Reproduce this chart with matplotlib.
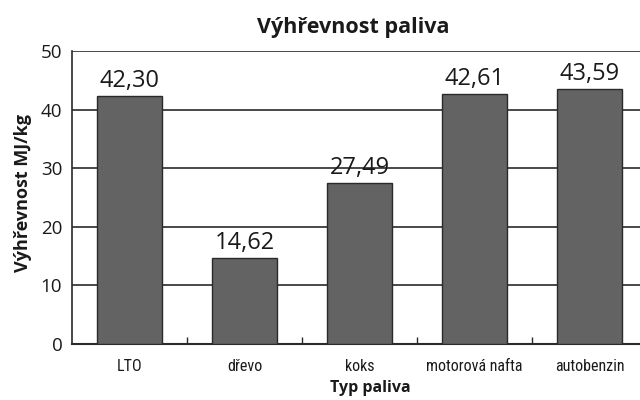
import matplotlib
matplotlib.use("Agg")
import matplotlib.pyplot as plt
from matplotlib.ticker import FixedLocator
from matplotlib import font_manager

categories = ["LTO", "dřevo", "koks", "motorová nafta", "autobenzin"]
values = [42.30, 14.62, 27.49, 42.61, 43.59]
yticks = [0, 10, 20, 30, 40, 50]

plt.rcParams['font.family'] = ['Open Sans', 'DejaVu Sans']

# pick a narrow font for category labels if one is installed
narrow = None
for f in font_manager.fontManager.ttflist:
    if f.name in ("Liberation Sans Narrow", "DejaVu Sans Condensed", "Roboto Condensed", "Open Sans Condensed"):
        narrow = f.name
        break
if narrow is None:
    for f in font_manager.fontManager.ttflist:
        if ("Condensed" in f.fname or "Narrow" in f.fname) and "Sans" in f.fname and "Mono" not in f.fname:
            narrow = f.fname
            break

fig = plt.figure(figsize=(6.4, 4.0), dpi=100)
ax = fig.add_axes([72/640, 56/400, 575/640, 293/400])

x = list(range(len(categories)))
ax.bar(x, values, width=0.565, color="#636363", edgecolor="#2a2a2a", linewidth=1.0, zorder=3)
for xi, v in zip(x, values):
    ax.annotate(f"{v:.2f}".replace(".", ","), (xi, v), xytext=(0, 6.5), textcoords="offset points",
                ha="center", va="baseline", fontsize=17, color="#1a1a1a")

ax.set_xlim(-0.5, 4.5)
ax.set_ylim(0, 50)
ax.set_yticks(yticks)
ax.set_yticklabels([str(t) for t in yticks], fontsize=13.5, color="#1a1a1a")
ax.yaxis.grid(True, color="#2a2a2a", linewidth=1.2, zorder=0)
ax.tick_params(axis='y', length=0, pad=7)
ax.set_xticks(x)
if narrow is not None and narrow.endswith(('.ttf', '.otf', '.TTF', '.OTF')):
    fp = font_manager.FontProperties(fname=narrow, size=11.5)
    ax.set_xticklabels(categories, fontproperties=fp, color="#1a1a1a")
elif narrow is not None:
    ax.set_xticklabels(categories, fontsize=11.5, family=[narrow, 'DejaVu Sans'], color="#1a1a1a")
else:
    ax.set_xticklabels(categories, fontsize=9.5, color="#1a1a1a")
ax.tick_params(axis='x', which='major', length=0, pad=11)
ax.xaxis.set_minor_locator(FixedLocator([0.5, 1.5, 2.5, 3.5]))
ax.tick_params(axis='x', which='minor', length=5, direction='in', width=1, color="#2a2a2a")
for s in ["top", "right"]:
    ax.spines[s].set_visible(False)
ax.spines["left"].set_color("#2a2a2a")
ax.spines["bottom"].set_color("#2a2a2a")
ax.spines["left"].set_linewidth(1.2)
ax.spines["bottom"].set_linewidth(1.5)

fig.text(353/640, 1 - 33/400, "Výhřevnost paliva", ha="center", va="baseline", fontsize=15.5, fontweight="bold", color="#1a1a1a")
fig.text(370/640, 1 - 392/400, "Typ paliva", ha="center", va="baseline", fontsize=11.5, fontweight="bold", color="#1a1a1a")
fig.text(23/640, 1 - 193/400, "Výhřevnost MJ/kg", ha="center", va="center", rotation=90, fontsize=13, fontweight="bold", color="#1a1a1a")

fig.savefig("out.png", dpi=100)
